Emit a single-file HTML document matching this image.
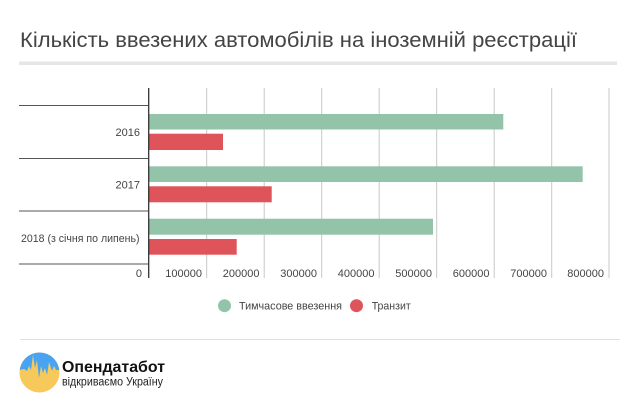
<!DOCTYPE html>
<html><head><meta charset="utf-8"><style>
html,body{margin:0;padding:0;background:#fff;}
svg{display:block;}
text{font-family:"Liberation Sans","Noto Sans CJK SC",sans-serif;}
</style></head><body>
<svg width="640" height="405" viewBox="0 0 640 405" xmlns="http://www.w3.org/2000/svg">
<rect width="640" height="405" fill="#fff"/>
<text x="20" y="47" font-size="21" fill="#444" textLength="557" lengthAdjust="spacingAndGlyphs">Кількість ввезених автомобілів на іноземній реєстрації</text>
<rect x="19" y="61.5" width="598" height="3.5" fill="#e6e6e6"/>
<!-- gridlines -->
<g stroke="#c8c8c8" stroke-width="1">
<line x1="206.7" y1="88" x2="206.7" y2="278"/>
<line x1="264.2" y1="88" x2="264.2" y2="278"/>
<line x1="321.7" y1="88" x2="321.7" y2="278"/>
<line x1="379.2" y1="88" x2="379.2" y2="278"/>
<line x1="436.7" y1="88" x2="436.7" y2="278"/>
<line x1="494.2" y1="88" x2="494.2" y2="278"/>
<line x1="551.7" y1="88" x2="551.7" y2="278"/>
<line x1="609" y1="88" x2="609" y2="278"/>
</g>
<!-- category separators -->
<g stroke="#555" stroke-width="1">
<line x1="19" y1="105.5" x2="148.7" y2="105.5"/>
<line x1="19" y1="158.5" x2="148.7" y2="158.5"/>
<line x1="19" y1="211" x2="148.7" y2="211"/>
<line x1="19" y1="264" x2="148.7" y2="264"/>
</g>
<!-- bars -->
<g fill="#93c4aa">
<rect x="149" y="114" width="354.3" height="15.5"/>
<rect x="149" y="166.3" width="433.7" height="15.7"/>
<rect x="149" y="218.7" width="284" height="16"/>
</g>
<g fill="#df535b">
<rect x="149" y="133.7" width="74" height="16.3"/>
<rect x="149" y="186.3" width="122.7" height="16"/>
<rect x="149" y="239" width="87.7" height="15.7"/>
</g>
<line x1="148.7" y1="88" x2="148.7" y2="278" stroke="#333" stroke-width="1.3"/>
<!-- category labels -->
<g font-size="11" fill="#444" text-anchor="end">
<text x="140" y="136">2016</text>
<text x="140" y="188.5">2017</text>
<text x="139.5" y="242" textLength="118.5" lengthAdjust="spacingAndGlyphs">2018 (з січня по липень)</text>
</g>
<!-- tick labels -->
<g font-size="11" fill="#444" text-anchor="end">
<text x="142" y="277">0</text>
<text x="202" y="277">100000</text>
<text x="259.5" y="277">200000</text>
<text x="317" y="277">300000</text>
<text x="374.5" y="277">400000</text>
<text x="432" y="277">500000</text>
<text x="489.5" y="277">600000</text>
<text x="547" y="277">700000</text>
<text x="604" y="277">800000</text>
</g>
<!-- legend -->
<circle cx="224.5" cy="305.7" r="6.5" fill="#93c4aa"/>
<text x="239" y="309.5" font-size="11" fill="#444" textLength="103" lengthAdjust="spacingAndGlyphs">Тимчасове ввезення</text>
<circle cx="356.5" cy="305.7" r="6.5" fill="#df535b"/>
<text x="371.7" y="309.5" font-size="11" fill="#444" textLength="39" lengthAdjust="spacingAndGlyphs">Транзит</text>
<!-- footer -->
<line x1="20" y1="339.5" x2="620" y2="339.5" stroke="#e0e0e0" stroke-width="1"/>
<defs><clipPath id="lc"><circle cx="39.5" cy="372.5" r="20"/></clipPath></defs>
<g clip-path="url(#lc)">
<rect x="19" y="352" width="42" height="42" fill="#f7c95a"/>
<path d="M19 352 H61 V370 L56 370 L54 366 L52 371 L49 362 L47 375 L45 368 L43 373 L41 366 L39 378 L37 360 L35 368 L33 355 L31 370 L29 366 L27 371 L24 369 L19 370 Z" fill="#4aa3f0"/>
</g>
<text x="62" y="372" font-size="15.5" font-weight="bold" fill="#111" textLength="103" lengthAdjust="spacingAndGlyphs">Опендатабот</text>
<text x="62" y="385.5" font-size="11.5" fill="#222" textLength="101" lengthAdjust="spacingAndGlyphs">відкриваємо Україну</text>
</svg>
</body></html>
